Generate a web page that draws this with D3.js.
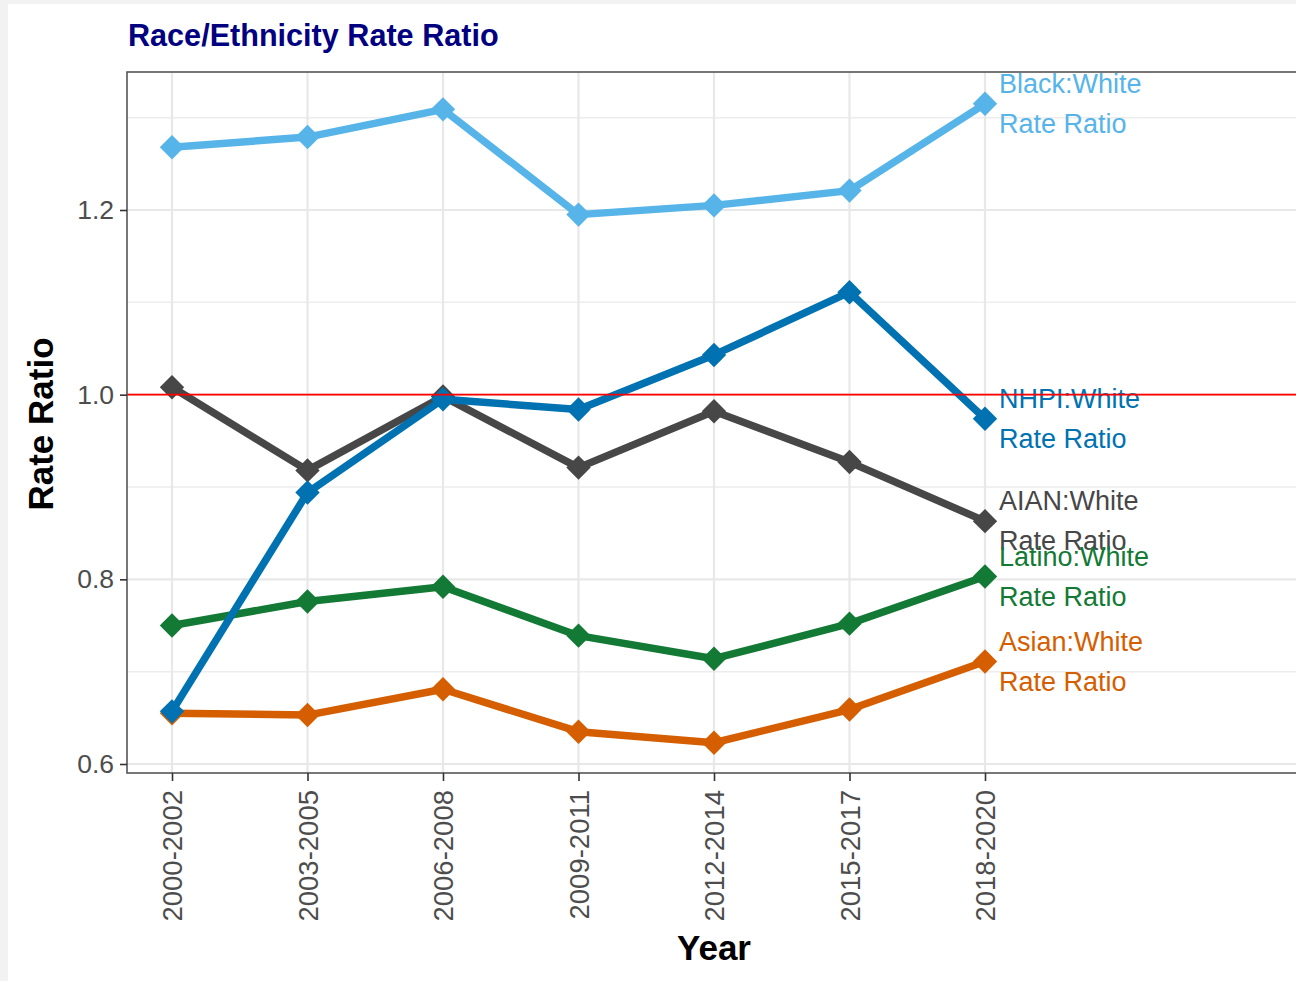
<!DOCTYPE html>
<html><head><meta charset="utf-8">
<script src="https://cdn.jsdelivr.net/npm/d3@7"></script>
<style>body{margin:0;background:#f2f2f2;}svg{display:block;}</style>
</head><body><svg id="c" width="1296" height="981"></svg>
<script>
const years = ["2000-2002","2003-2005","2006-2008","2009-2011","2012-2014","2015-2017","2018-2020"];
const black  = [1.268,1.279,1.309,1.195,1.205,1.221,1.315];
const nhpi   = [0.657,0.894,0.995,0.984,1.043,1.111,0.974];
const aian   = [1.008,0.918,0.998,0.921,0.982,0.927,0.863];
const latino = [0.750,0.776,0.792,0.739,0.714,0.752,0.803];
const asian  = [0.655,0.653,0.681,0.635,0.623,0.659,0.711];
const yTicks = [0.6,0.8,1.0,1.2];
const yMinor = [0.7,0.9,1.1,1.3];
const seriesNames = ["AIAN","Latino","Asian","Black","NHPI"];
const seriesColors = {Black:"#56B4E9",NHPI:"#0072B2",AIAN:"#474747",Latino:"#137A35",Asian:"#D55E00"};
const seriesData = {Black:black,NHPI:nhpi,AIAN:aian,Latino:latino,Asian:asian};

const svg = d3.select("#c");
svg.append("rect").attr("x",8).attr("y",4).attr("width",1288).attr("height",977).attr("fill","#fff");

const L=127,T=72,R=1297,B=773;
const x = d3.scalePoint().domain(years).range([172,985]);
const y = d3.scaleLinear().domain([0.6,1.2]).range([764,210]);

const grid = svg.append("g");
yMinor.forEach(v=>grid.append("line").attr("x1",L).attr("x2",R).attr("y1",y(v)).attr("y2",y(v)).attr("stroke","#ededed").attr("stroke-width",1.5));
yTicks.forEach(v=>grid.append("line").attr("x1",L).attr("x2",R).attr("y1",y(v)).attr("y2",y(v)).attr("stroke","#e8e8e8").attr("stroke-width",2.2));
years.forEach(c=>grid.append("line").attr("x1",x(c)).attr("x2",x(c)).attr("y1",T).attr("y2",B).attr("stroke","#e8e8e8").attr("stroke-width",2.2));

const line = d3.line().x((d,i)=>x(years[i])).y(d=>y(d));
const diamond = d3.symbol().type(d3.symbolDiamond2).size(380);
seriesNames.forEach(n=>{
  const g = svg.append("g");
  g.append("path").datum(seriesData[n]).attr("d",line).attr("fill","none")
    .attr("stroke",seriesColors[n]).attr("stroke-width",7.5).attr("stroke-linejoin","round");
  g.selectAll("path.pt").data(seriesData[n]).join("path").attr("class","pt")
    .attr("d",diamond).attr("transform",(d,i)=>`translate(${x(years[i])},${y(d)})`)
    .attr("fill",seriesColors[n]);
});

// labels
const labelOrder = ["Black","NHPI","AIAN","Latino","Asian"];
labelOrder.forEach(n=>{
  const v = seriesData[n][6];
  const t = svg.append("text").attr("x",999).attr("y",y(v)).attr("fill",seriesColors[n])
    .attr("font-family","Liberation Sans, Arial, sans-serif").attr("font-size",27);
  t.append("tspan").attr("x",999).attr("dy",-11).text(n+":White");
  t.append("tspan").attr("x",999).attr("dy",40).text("Rate Ratio");
});

// reference line
svg.append("line").attr("x1",L).attr("x2",R).attr("y1",y(1)).attr("y2",y(1)).attr("stroke","#ff0000").attr("stroke-width",1.6);

// panel border
svg.append("rect").attr("x",L).attr("y",T).attr("width",R-L).attr("height",B-T).attr("fill","none").attr("stroke","#555").attr("stroke-width",1.6);

// axes
const yAxis = svg.append("g").attr("transform",`translate(${L},0)`)
  .call(d3.axisLeft(y).tickValues(yTicks).tickFormat(d3.format(".1f")).tickSize(7).tickPadding(6));
yAxis.select(".domain").remove();
yAxis.selectAll("line").attr("stroke","#333").attr("stroke-width",1.6);
yAxis.selectAll("text").attr("font-family","Liberation Sans, Arial, sans-serif").attr("font-size",26.5).attr("fill","#4d4d4d");

const xAxis = svg.append("g").attr("transform",`translate(0,${B})`)
  .call(d3.axisBottom(x).tickSize(8).tickPadding(5));
xAxis.select(".domain").remove();
xAxis.selectAll("line").attr("stroke","#333").attr("stroke-width",1.6);
xAxis.selectAll("text").attr("font-family","Liberation Sans, Arial, sans-serif").attr("font-size",27.5).attr("fill","#4d4d4d")
  .attr("transform","rotate(-90)").attr("text-anchor","end").attr("x",-17).attr("y",0).attr("dy","0.35em");

// titles
svg.append("text").attr("x",128).attr("y",46).attr("fill","#000080").attr("font-family","Liberation Sans, Arial, sans-serif")
  .attr("font-weight","bold").attr("font-size",30.6).text("Race/Ethnicity Rate Ratio");
svg.append("text").attr("x",714).attr("y",960).attr("text-anchor","middle").attr("font-family","Liberation Sans, Arial, sans-serif")
  .attr("font-weight","bold").attr("font-size",35).text("Year");
svg.append("text").attr("transform","translate(53,424) rotate(-90)").attr("text-anchor","middle").attr("font-family","Liberation Sans, Arial, sans-serif")
  .attr("font-weight","bold").attr("font-size",35).text("Rate Ratio");
</script></body></html>
